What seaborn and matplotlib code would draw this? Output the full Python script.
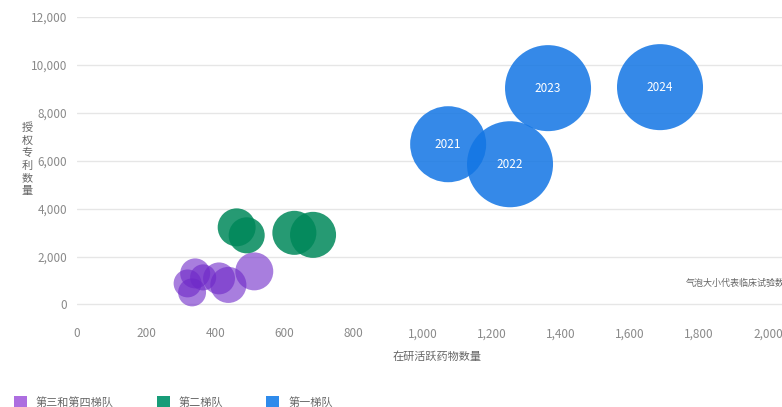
import matplotlib
matplotlib.use("Agg")
import matplotlib.pyplot as plt
from matplotlib.patches import Patch
import pandas as pd
import seaborn as sns

# tiers
tiers = ['第三和第四梯队'] * 7 + ['第二梯队'] * 4 + ['第一梯队'] * 4
active_drugs = [513, 438, 411, 342, 365, 320, 333,
                462, 491, 629, 683,
                1074, 1253, 1363, 1687]
patents = [1380, 815, 1087, 1296, 1129, 878, 502,
           3219, 2885, 2989, 2905,
           6689, 5853, 9030, 9072]
# bubble size = clinical trials (relative)
trials = [360, 325, 255, 225, 170, 195, 195,
          360, 325, 485, 530,
          1445, 1850, 1850, 1850]
years = ['', '', '', '', '', '', '',
         '', '', '', '',
         '2021', '2022', '2023', '2024']

tier_order = ['第三和第四梯队', '第二梯队', '第一梯队']
palette = {'第三和第四梯队': '#6e28c8', '第二梯队': '#00885a', '第一梯队': '#1275e4'}
legend_colors = {'第三和第四梯队': '#ad6ee0', '第二梯队': '#179c78', '第一梯队': '#2f8beb'}
alphas = {'第三和第四梯队': 0.6, '第二梯队': 0.85, '第一梯队': 0.85}

df = pd.DataFrame({'tier': tiers, 'drugs': active_drugs, 'patents': patents,
                   'trials': trials, 'year': years})

sns.set_theme(style='white')
plt.rcParams['font.family'] = ['Noto Sans CJK SC', 'DejaVu Sans']

W, H = 782, 407
fig = plt.figure(figsize=(W / 100, H / 100), dpi=100)
ax = fig.add_axes([77 / W, 1 - 326 / H, (782 - 77) / W, (326 - 17) / H])

# one call per tier so each gets its own transparency
for t in tier_order:
    sub = df[df['tier'] == t]
    sns.scatterplot(data=sub, x='drugs', y='patents', size='trials',
                    size_norm=(0, 2000), sizes=(0, 2.0736 * 2000),
                    color=palette[t], alpha=alphas[t], linewidth=0,
                    legend=False, ax=ax)

for _, row in df[df['year'] != ''].iterrows():
    ax.text(row['drugs'], row['patents'], row['year'], color='white',
            fontsize=8.5, ha='center', va='center')

ax.set_xlim(0, 2040)
ax.set_ylim(-900, 12000)
ax.set_xticks(range(0, 2001, 200))
ax.set_yticks(range(0, 12001, 2000))
ax.xaxis.set_major_formatter(matplotlib.ticker.StrMethodFormatter('{x:,.0f}'))
ax.yaxis.set_major_formatter(matplotlib.ticker.StrMethodFormatter('{x:,.0f}'))
ax.tick_params(axis='both', length=0, labelsize=8.5, colors='#8a8a8a')
ax.tick_params(axis='y', pad=7)
ax.tick_params(axis='x', pad=1)
ax.yaxis.grid(True, color='#e6e6e6', linewidth=1)
ax.xaxis.grid(False)
sns.despine(ax=ax, left=True, bottom=True)
ax.set_xlabel('')
ax.set_ylabel('')

fig.text(27 / W, 1 - 159 / H, '\n'.join('授权专利数量'), fontsize=8,
         color='#666666', ha='center', va='center', linespacing=1.3)
fig.text(437 / W, 1 - 357 / H, '在研活跃药物数量', fontsize=8,
         color='#666666', ha='center', va='center')
ax.text(1763, 878, '气泡大小代表临床试验数量', fontsize=6.5,
        color='#666666', ha='left', va='center')

handles = [Patch(facecolor=legend_colors[t], edgecolor='none') for t in tier_order]
fig.legend(handles, tier_order, loc='center left',
           bbox_to_anchor=(14 / W, 1 - 402 / H), ncol=3, frameon=False,
           fontsize=8, handlelength=1.15, handleheight=1.15,
           handletextpad=0.8, columnspacing=3.9,
           borderpad=0, borderaxespad=0, labelcolor='#666666')

fig.savefig('out.png', dpi=100)
